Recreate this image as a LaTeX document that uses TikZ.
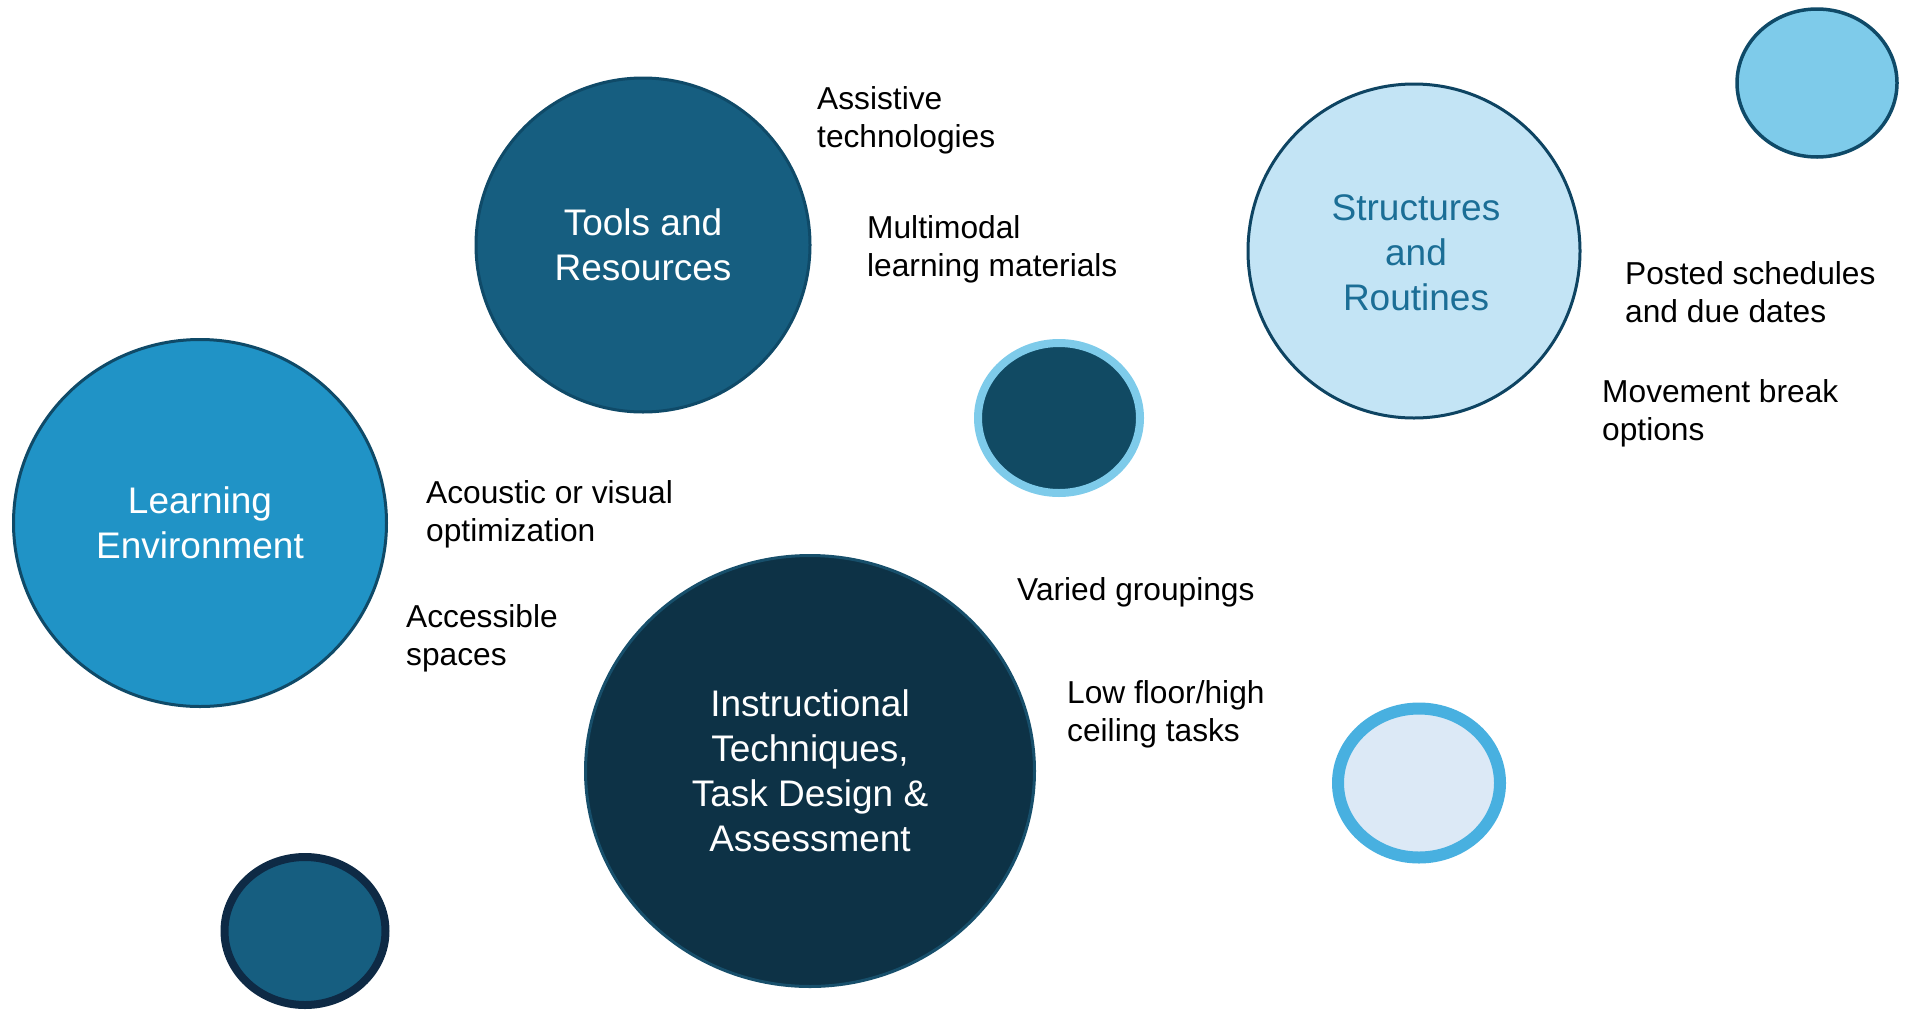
\documentclass[tikz,border=0pt]{standalone}
\usepackage{fontspec}
\setmainfont{Liberation Sans}
\usetikzlibrary{shapes.geometric}
\definecolor{toolsfill}{HTML}{165E80}
\definecolor{toolsedge}{HTML}{0F4A68}
\definecolor{learnfill}{HTML}{2093C6}
\definecolor{instrfill}{HTML}{0D3246}
\definecolor{instredge}{HTML}{174F6B}
\definecolor{structfill}{HTML}{C3E4F5}
\definecolor{structtext}{HTML}{1B6E96}
\definecolor{structedge}{HTML}{0E4462}
\definecolor{skyfill}{HTML}{7ECBEA}
\definecolor{darkfill}{HTML}{114A63}
\definecolor{palefill}{HTML}{DCE9F6}
\definecolor{paleedge}{HTML}{48B0E0}
\definecolor{navyedge}{HTML}{0E2A45}
\tikzset{
  bubble/.style={ellipse, inner sep=0pt, align=center, font=\fontsize{37}{45}\selectfont},
  dot/.style={ellipse, inner sep=0pt},
  lbl/.style={anchor=west, inner sep=0pt, align=left, font=\fontsize{31.7}{38}\selectfont, text=black}
}
\begin{document}
\begin{tikzpicture}[x=1pt,y=-1pt]
\useasboundingbox (0,0) rectangle (1914,1010);
% big bubbles
\node[bubble, fill=toolsfill, draw=toolsedge, line width=3pt, minimum width=334pt, minimum height=334pt, text=white] (tools) at (643,245) {Tools and\\Resources};
\node[bubble, fill=learnfill, draw=toolsedge, line width=3pt, minimum width=373pt, minimum height=367pt, text=white] (learn) at (200,523) {Learning\\Environment};
\node[bubble, fill=instrfill, draw=instredge, line width=3pt, minimum width=449pt, minimum height=431pt, text=white] (instr) at (810,771) {Instructional\\Techniques,\\Task Design \&\\Assessment};
\node[bubble, fill=structfill, draw=structedge, line width=3pt, minimum width=332pt, minimum height=334pt, text=structtext] (struct) at (1414,251) {};
\node[align=center, inner sep=0pt, font=\fontsize{37}{45}\selectfont, text=structtext] (structtxt) at (1416,253) {Structures\\and\\Routines};
% small dots
\node[dot, fill=skyfill, draw=toolsedge, line width=3.5pt, minimum width=160pt, minimum height=148pt] (dotTR) at (1817,83) {};
\node[dot, fill=darkfill, draw=skyfill, line width=8pt, minimum width=162pt, minimum height=150pt] (dotMid) at (1059,418) {};
\node[dot, fill=palefill, draw=paleedge, line width=12pt, minimum width=162pt, minimum height=149pt] (dotPale) at (1419,783) {};
\node[dot, fill=toolsfill, draw=navyedge, line width=8pt, minimum width=161pt, minimum height=148pt] (dotBL) at (305,931) {};
% labels
\node[lbl] (l1) at (817,120) {Assistive\\technologies};
\node[lbl] (l2) at (867,249) {Multimodal\\learning materials};
\node[lbl] (l3) at (1625,292) {Posted schedules\\and due dates};
\node[lbl] (l4) at (1602,413) {Movement break\\options};
\node[lbl] (l5) at (426,514) {Acoustic or visual\\optimization};
\node[lbl] (l6) at (406,638) {Accessible\\spaces};
\node[lbl] (l7) at (1017,592) {Varied groupings};
\node[lbl] (l8) at (1067,714) {Low floor/high\\ceiling tasks};
\end{tikzpicture}
\end{document}
